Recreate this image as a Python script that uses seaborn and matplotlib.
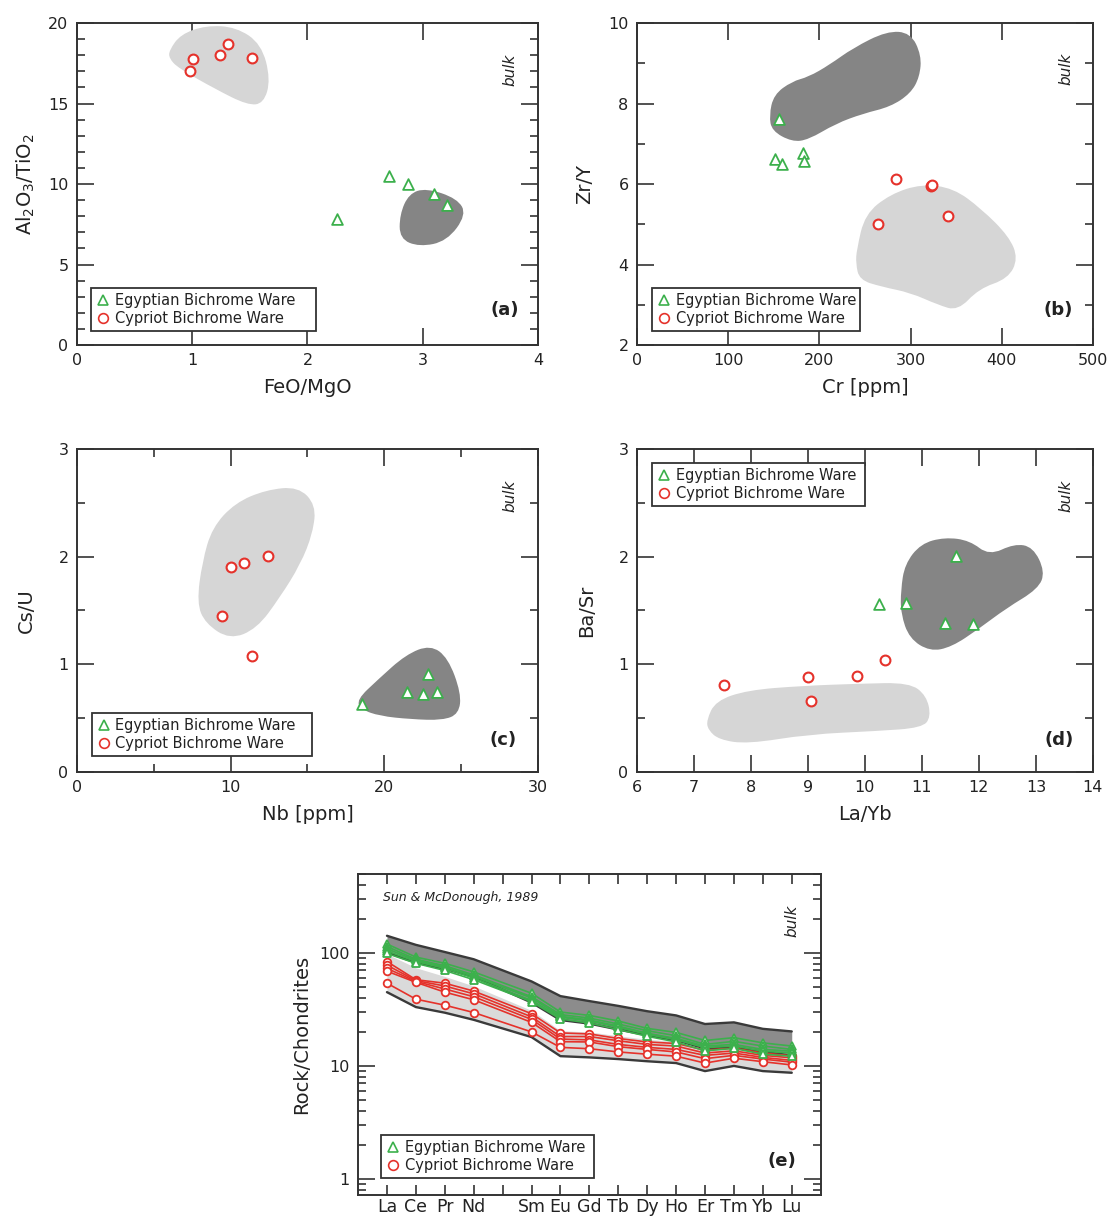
import numpy as np
import pandas as pd
import matplotlib
matplotlib.use("Agg")
import matplotlib.pyplot as plt
from matplotlib.path import Path
from matplotlib.patches import PathPatch
from matplotlib.lines import Line2D
from matplotlib.ticker import MultipleLocator, LogLocator, NullFormatter, FixedLocator
import seaborn as sns

# ---------------- data ----------------
series_names = ["Egyptian Bichrome Ware", "Cypriot Bichrome Ware"]

# (a) FeO/MgO vs Al2O3/TiO2
a_egy_x = [2.26, 2.71, 2.87, 3.10, 3.21]
a_egy_y = [7.83, 10.47, 10.01, 9.37, 8.70]
a_cyp_x = [0.98, 1.005, 1.24, 1.31, 1.52]
a_cyp_y = [17.04, 17.78, 18.03, 18.69, 17.80]
a_dark_x = [3.03, 3.30, 3.38, 3.21, 2.97, 2.80, 2.80, 2.88]
a_dark_y = [9.75, 9.10, 8.10, 6.45, 6.10, 6.60, 8.10, 9.40]
a_light_x = [0.80, 0.90, 1.12, 1.38, 1.60, 1.68, 1.62, 1.48, 1.20, 0.88, 0.80]
a_light_y = [18.3, 19.3, 19.85, 19.75, 18.7, 16.5, 15.0, 14.9, 15.9, 17.2, 17.8]

# (b) Cr vs Zr/Y
b_egy_x = [156, 151, 158.6, 182, 183]
b_egy_y = [7.62, 6.61, 6.50, 6.78, 6.56]
b_cyp_x = [284, 322, 324, 264, 341]
b_cyp_y = [6.13, 5.95, 5.97, 5.01, 5.20]
b_dark_x = [145, 150, 170, 188, 211, 237, 274, 300, 312, 310, 300, 278, 248, 218, 188, 170, 148]
b_dark_y = [7.7, 8.22, 8.55, 8.66, 8.96, 9.38, 9.80, 9.76, 9.2, 8.66, 8.25, 7.92, 7.75, 7.50, 7.10, 7.05, 7.32]
b_light_x = [241, 250, 278, 312, 347, 378, 408, 418, 407, 375, 352, 330, 300, 268, 244, 240]
b_light_y = [4.37, 5.25, 5.75, 6.0, 5.9, 5.38, 4.70, 4.15, 3.65, 3.40, 2.85, 3.00, 3.30, 3.45, 3.62, 4.03]

# (c) Nb vs Cs/U
c_egy_x = [18.58, 21.5, 22.55, 22.87, 23.46]
c_egy_y = [0.63, 0.74, 0.72, 0.91, 0.74]
c_cyp_x = [10.0, 10.87, 12.41, 9.46, 11.39]
c_cyp_y = [1.90, 1.94, 2.01, 1.45, 1.08]
c_light_x = [7.8, 8.15, 8.8, 10.3, 12.3, 14.4, 15.55, 15.35, 14.55, 13.2, 11.7, 9.95, 8.35]
c_light_y = [1.57, 1.95, 2.27, 2.50, 2.62, 2.65, 2.48, 2.22, 1.93, 1.62, 1.33, 1.23, 1.38]
c_dark_x = [18.2, 19.6, 21.4, 23.0, 24.15, 25.0, 24.85, 23.8, 21.7, 19.7, 18.5]
c_dark_y = [0.67, 0.86, 1.09, 1.18, 1.06, 0.73, 0.54, 0.48, 0.49, 0.52, 0.58]

# (d) La/Yb vs Ba/Sr
d_egy_x = [10.24, 10.72, 11.60, 11.40, 11.90]
d_egy_y = [1.56, 1.57, 2.01, 1.38, 1.37]
d_cyp_x = [7.53, 9.01, 9.06, 9.86, 10.36]
d_cyp_y = [0.81, 0.88, 0.66, 0.89, 1.04]
d_dark_x = [10.63, 10.70, 10.98, 11.40, 11.84, 12.18, 12.62, 12.95, 13.16, 13.04, 12.48, 12.0, 11.52, 11.14, 10.78, 10.63]
d_dark_y = [1.69, 1.93, 2.12, 2.18, 2.15, 2.01, 2.12, 2.09, 1.86, 1.70, 1.52, 1.33, 1.16, 1.12, 1.24, 1.47]
d_light_x = [7.22, 7.38, 7.94, 8.9, 9.91, 10.78, 11.08, 11.16, 11.0, 10.21, 9.01, 7.94, 7.44, 7.25]
d_light_y = [0.48, 0.66, 0.76, 0.80, 0.82, 0.83, 0.71, 0.51, 0.41, 0.38, 0.35, 0.26, 0.30, 0.39]

# (e) REE normalised to chondrites (Sun & McDonough, 1989)
ree_elements = ["La", "Ce", "Pr", "Nd", "Pm", "Sm", "Eu", "Gd", "Tb", "Dy", "Ho", "Er", "Tm", "Yb", "Lu"]
ree_measured = ["La", "Ce", "Pr", "Nd", "Sm", "Eu", "Gd", "Tb", "Dy", "Ho", "Er", "Tm", "Yb", "Lu"]
egy_1 = [120, 92, 81, 68, 44, 30, 28, 25, 21.5, 19.8, 16.8, 17.8, 16.0, 15.0]
egy_2 = [114, 88, 77, 64, 41, 28.5, 26.5, 23.5, 20.5, 18.5, 15.5, 16.5, 15.0, 14.0]
egy_3 = [109, 86, 75, 62, 40, 27.5, 25.5, 22.5, 19.5, 17.5, 15.0, 15.5, 14.0, 13.5]
egy_4 = [104, 84, 73, 60, 38, 27, 25, 22, 19, 17, 14.5, 15.0, 13.5, 13.0]
egy_5 = [99, 81, 70, 58, 37, 26, 24, 21, 18.3, 16.3, 13.6, 14.3, 12.7, 12.2]
cyp_1 = [84, 58, 54, 46, 29, 19.6, 19.2, 17.5, 16.3, 15.8, 13.8, 14.4, 13.0, 12.3]
cyp_2 = [78, 57, 51, 43.5, 27.2, 18.2, 18.2, 16.7, 15.5, 15.0, 13.0, 13.6, 12.4, 11.8]
cyp_3 = [73, 56, 48, 41, 25.8, 17.3, 17.0, 15.5, 14.6, 14.0, 12.4, 13.0, 11.9, 11.2]
cyp_4 = [69, 55, 45, 38.5, 24.3, 16.4, 16.3, 14.8, 14.0, 13.3, 11.6, 12.4, 11.5, 10.8]
cyp_5 = [54, 39, 34.5, 29.7, 20, 14.6, 14.2, 13.3, 12.7, 12.2, 10.6, 11.7, 10.9, 10.2]
egy_field_hi = [142, 118, 102, 88, 56, 41.5, 37.5, 34, 30.5, 28, 23.5, 24.3, 21.3, 20.2]
egy_field_lo = [101, 82, 72.5, 61.5, 36.4, 25.5, 23.7, 21, 18.7, 16.9, 14.3, 14.7, 13.3, 12.4]
cyp_field_hi = [98, 74, 62, 51, 31, 20.5, 20, 18.5, 17.2, 16.5, 14.5, 15.2, 13.6, 13.0]
cyp_field_lo = [45, 33.2, 29.6, 25.6, 18, 12.2, 11.9, 11.5, 11.0, 10.6, 9.0, 10.0, 9.0, 8.7]

# ---------------- style ----------------
GREEN = "#3cb04c"
RED = "#e5322b"
DARK = "#858585"
LIGHT = "#d6d6d6"
FRAME = "#333333"

sns.set_theme(style="ticks")
plt.rcParams["font.family"] = ["DejaVu Sans"]
plt.rcParams["text.color"] = "#222222"
plt.rcParams["axes.labelcolor"] = "#222222"

fig = plt.figure(figsize=(11.12, 12.18), dpi=100)
fig.patch.set_facecolor("white")

ax_a = fig.add_axes([0.0692, 0.7167, 0.4146, 0.2644])
ax_b = fig.add_axes([0.5728, 0.7167, 0.4100, 0.2644])
ax_c = fig.add_axes([0.0692, 0.3662, 0.4146, 0.2652])
ax_d = fig.add_axes([0.5728, 0.3662, 0.4100, 0.2652])
ax_e = fig.add_axes([0.3220, 0.0189, 0.4160, 0.2635])


def style_axes(ax):
    for s in ax.spines.values():
        s.set_linewidth(1.4)
        s.set_color(FRAME)
    ax.tick_params(which="both", direction="in", top=True, right=True,
                   color=FRAME, width=1.2, labelsize=11.5, labelcolor="#222222")
    ax.tick_params(which="major", length=12, pad=6)
    ax.tick_params(which="minor", length=6)


def blob(ax, xs, ys, color):
    pts = np.column_stack([xs, ys])
    mids = (pts + np.roll(pts, -1, axis=0)) / 2.0
    verts = [mids[-1]]
    codes = [Path.MOVETO]
    for i in range(len(pts)):
        verts += [pts[i], mids[i]]
        codes += [Path.CURVE3, Path.CURVE3]
    verts.append(mids[-1])
    codes.append(Path.CLOSEPOLY)
    ax.add_patch(PathPatch(Path(verts, codes), facecolor=color, edgecolor="none", zorder=1))


def handles(ms=7):
    return [
        Line2D([], [], ls="none", marker="^", ms=ms, mfc="white", mec=GREEN, mew=1.2),
        Line2D([], [], ls="none", marker="o", ms=ms, mfc="white", mec=RED, mew=1.2),
    ]


def add_legend(ax, loc, anchor):
    leg = ax.legend(handles(), series_names, loc=loc, bbox_to_anchor=anchor,
                    mode="expand", borderaxespad=0, frameon=True, fancybox=False,
                    framealpha=1, edgecolor=FRAME, fontsize=10.5, handlelength=0.9,
                    handletextpad=0.35, labelspacing=0.2, borderpad=0.35)
    leg.get_frame().set_linewidth(1.3)


def scatter_panel(ax, ex, ey, cx, cy):
    sns.scatterplot(x=ex, y=ey, ax=ax, marker="^", s=60, color=GREEN,
                    facecolor="white", edgecolor=GREEN, linewidth=1.3, zorder=3)
    sns.scatterplot(x=cx, y=cy, ax=ax, marker="o", s=50, color=RED,
                    facecolor="white", edgecolor=RED, linewidth=1.5, zorder=3)


def annotate(ax, letter, lx, ly, bx=0.94, by=0.855):
    ax.text(lx, ly, letter, transform=ax.transAxes, ha="right", va="center",
            fontsize=13, fontweight="bold", color="#222222")
    ax.text(bx, by, "bulk", transform=ax.transAxes, ha="center", va="center",
            rotation=90, style="italic", fontsize=11, color="#222222")


# ---- (a) ----
blob(ax_a, a_light_x, a_light_y, LIGHT)
blob(ax_a, a_dark_x, a_dark_y, DARK)
scatter_panel(ax_a, a_egy_x, a_egy_y, a_cyp_x, a_cyp_y)
ax_a.set_xlim(0, 4)
ax_a.set_ylim(0, 20)
ax_a.xaxis.set_major_locator(MultipleLocator(1))
ax_a.yaxis.set_major_locator(MultipleLocator(5))
ax_a.yaxis.set_minor_locator(MultipleLocator(1))
ax_a.set_xlabel("FeO/MgO", fontsize=14, labelpad=7)
ax_a.set_ylabel(r"Al$_2$O$_3$/TiO$_2$", fontsize=14, labelpad=8)
style_axes(ax_a)
add_legend(ax_a, "lower left", (0.031, 0.043, 0.488, 0.13))
annotate(ax_a, "(a)", 0.958, 0.11, 0.939, 0.855)

# ---- (b) ----
blob(ax_b, b_dark_x, b_dark_y, DARK)
blob(ax_b, b_light_x, b_light_y, LIGHT)
scatter_panel(ax_b, b_egy_x, b_egy_y, b_cyp_x, b_cyp_y)
ax_b.set_xlim(0, 500)
ax_b.set_ylim(2, 10)
ax_b.xaxis.set_major_locator(MultipleLocator(100))
ax_b.yaxis.set_major_locator(MultipleLocator(2))
ax_b.yaxis.set_minor_locator(MultipleLocator(1))
ax_b.set_xlabel("Cr [ppm]", fontsize=14, labelpad=7)
ax_b.set_ylabel("Zr/Y", fontsize=14, labelpad=10)
style_axes(ax_b)
add_legend(ax_b, "lower left", (0.034, 0.043, 0.456, 0.13))
annotate(ax_b, "(b)", 0.957, 0.11, 0.942, 0.857)

# ---- (c) ----
blob(ax_c, c_light_x, c_light_y, LIGHT)
blob(ax_c, c_dark_x, c_dark_y, DARK)
scatter_panel(ax_c, c_egy_x, c_egy_y, c_cyp_x, c_cyp_y)
ax_c.set_xlim(0, 30)
ax_c.set_ylim(0, 3)
ax_c.xaxis.set_major_locator(MultipleLocator(10))
ax_c.xaxis.set_minor_locator(MultipleLocator(5))
ax_c.yaxis.set_major_locator(MultipleLocator(1))
ax_c.yaxis.set_minor_locator(MultipleLocator(0.5))
ax_c.set_xlabel("Nb [ppm]", fontsize=14, labelpad=7)
ax_c.set_ylabel("Cs/U", fontsize=14, labelpad=16)
style_axes(ax_c)
add_legend(ax_c, "lower left", (0.0325, 0.05, 0.478, 0.13))
annotate(ax_c, "(c)", 0.954, 0.10, 0.939, 0.854)

# ---- (d) ----
blob(ax_d, d_light_x, d_light_y, LIGHT)
blob(ax_d, d_dark_x, d_dark_y, DARK)
scatter_panel(ax_d, d_egy_x, d_egy_y, d_cyp_x, d_cyp_y)
ax_d.set_xlim(6, 14)
ax_d.set_ylim(0, 3)
ax_d.xaxis.set_major_locator(MultipleLocator(1))
ax_d.yaxis.set_major_locator(MultipleLocator(1))
ax_d.yaxis.set_minor_locator(MultipleLocator(0.5))
ax_d.set_xlabel("La/Yb", fontsize=14, labelpad=7)
ax_d.set_ylabel("Ba/Sr", fontsize=14, labelpad=16)
style_axes(ax_d)
add_legend(ax_d, "upper left", (0.034, 0.827, 0.466, 0.13))
annotate(ax_d, "(d)", 0.957, 0.10, 0.942, 0.854)

# ---- (e) ----
xpos = [ree_elements.index(el) for el in ree_measured]
ax_e.fill_between(xpos, egy_field_lo, egy_field_hi, color="#8c8c8c", lw=0, zorder=1)
ax_e.fill_between(xpos, cyp_field_lo, cyp_field_hi, color="#dadada", lw=0, zorder=1)
for band in (egy_field_hi, egy_field_lo, cyp_field_lo):
    ax_e.plot(xpos, band, color="#3a3a3a", lw=1.7, zorder=2)

rows = []
for name, vals in [("E1", egy_1), ("E2", egy_2), ("E3", egy_3), ("E4", egy_4), ("E5", egy_5)]:
    for el, v in zip(ree_measured, vals):
        rows.append(dict(group=series_names[0], sample=name, x=ree_elements.index(el), value=v))
for name, vals in [("C1", cyp_1), ("C2", cyp_2), ("C3", cyp_3), ("C4", cyp_4), ("C5", cyp_5)]:
    for el, v in zip(ree_measured, vals):
        rows.append(dict(group=series_names[1], sample=name, x=ree_elements.index(el), value=v))
ree = pd.DataFrame(rows)

sns.lineplot(data=ree[ree.group == series_names[1]], x="x", y="value", units="sample",
             estimator=None, ax=ax_e, color=RED, lw=1.2, marker="o", ms=5.5,
             mfc="white", mec=RED, mew=1.3, zorder=3, legend=False)
sns.lineplot(data=ree[ree.group == series_names[0]], x="x", y="value", units="sample",
             estimator=None, ax=ax_e, color=GREEN, lw=1.2, marker="^", ms=5.5,
             mfc="white", mec=GREEN, mew=1.3, zorder=4, legend=False)

ax_e.set_yscale("log")
ax_e.set_ylim(0.72, 500)
ax_e.set_xlim(-1, 15)
ax_e.xaxis.set_major_locator(FixedLocator(range(len(ree_elements))))
ax_e.set_xticklabels([el if el != "Pm" else "" for el in ree_elements])
ax_e.yaxis.set_minor_locator(LogLocator(base=10, subs=np.arange(2, 10), numticks=10))
ax_e.yaxis.set_minor_formatter(NullFormatter())
ax_e.set_yticks([1, 10, 100])
ax_e.set_yticklabels(["1", "10", "100"])
ax_e.set_xlabel("")
ax_e.set_ylabel("Rock/Chondrites", fontsize=14, labelpad=6)
style_axes(ax_e)
ax_e.tick_params(axis="x", which="major", length=7, labelsize=12.5, pad=2)
add_legend(ax_e, "lower left", (0.05, 0.053, 0.46, 0.13))
annotate(ax_e, "(e)", 0.948, 0.106, 0.937, 0.853)
ax_e.text(0.054, 0.928, "Sun & McDonough, 1989", transform=ax_e.transAxes,
          ha="left", va="center", style="italic", fontsize=9, color="#222222")

fig.savefig("out.png", dpi=100, facecolor="white")
